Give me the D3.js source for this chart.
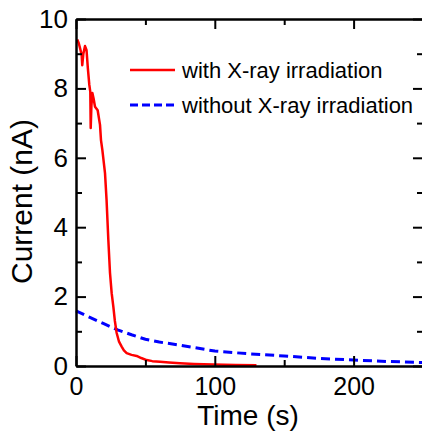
<!DOCTYPE html>
<html>
<head>
<meta charset="utf-8">
<script src="https://cdn.jsdelivr.net/npm/d3@7"></script>
<style>
  html, body { margin: 0; padding: 0; background: #fff; }
  text { font-family: Arial, "Liberation Sans", sans-serif; fill: #000; }
</style>
</head>
<body>
<div id="viz"></div>
<script>
// ----- data -----
const withXrayTime = [0.9, 2, 3.3, 4.1, 4.5, 5.3, 6.5, 7.6, 8.5, 9.6, 10.3, 10.6, 11.1, 11.8, 12.7, 13.7, 15.6, 17.3, 18, 19, 20.9, 22, 23.3, 24.5, 25.7, 26.9, 28, 29.3, 31, 32.9, 34.5, 36.5, 40, 43.7, 47, 50.9, 55, 60.5, 67, 74.9, 85, 99, 115, 130];
const withXrayCurrent = [9.41, 9.3, 9.1, 8.95, 8.67, 9.0, 9.22, 9.1, 8.6, 8.1, 7.9, 6.86, 7.5, 7.87, 7.7, 7.47, 7.37, 6.95, 6.51, 6.22, 5.56, 4.8, 3.63, 2.68, 2.1, 1.71, 1.3, 0.95, 0.7, 0.56, 0.45, 0.37, 0.32, 0.29, 0.23, 0.17, 0.14, 0.12, 0.1, 0.08, 0.06, 0.04, 0.03, 0.02];

const withoutXrayTime = [0, 10, 20, 30, 40, 50, 60, 75, 100, 125, 150, 175, 200, 225, 250];
const withoutXrayCurrent = [1.59, 1.4, 1.22, 1.04, 0.9, 0.77, 0.69, 0.6, 0.43, 0.35, 0.29, 0.22, 0.17, 0.13, 0.1];

const xMajorTicks = [0, 100, 200];
const xMinorTicks = [50, 150, 250];
const yMajorTicks = [0, 2, 4, 6, 8, 10];
const yMinorTicks = [1, 3, 5, 7, 9];

const seriesNames = ['with X-ray irradiation', 'without X-ray irradiation'];

// ----- dimensions -----
const dimensions = {
  width: 422,
  height: 438,
  margin: { top: 19, left: 76 },
  boundedWidth: 347,
  boundedHeight: 347,
};

const svg = d3.select('#viz')
  .append('svg')
    .attr('width', dimensions.width)
    .attr('height', dimensions.height);

const viz = svg.append('g')
  .attr('transform', `translate(${dimensions.margin.left}, ${dimensions.margin.top})`);

// ----- scales -----
const xScale = d3.scaleLinear().domain([0, 250]).range([0, dimensions.boundedWidth]);
const yScale = d3.scaleLinear().domain([0, 10]).range([dimensions.boundedHeight, 0]);

// ----- data -----
const withData = withXrayTime.map((t, i) => [t, withXrayCurrent[i]]);
const withoutData = withoutXrayTime.map((t, i) => [t, withoutXrayCurrent[i]]);

const lineGenerator = d3.line()
  .x(d => xScale(d[0]))
  .y(d => yScale(d[1]));

viz.append('path')
  .attr('d', lineGenerator(withoutData))
  .attr('fill', 'none')
  .attr('stroke', '#0000ff')
  .attr('stroke-width', 3)
  .attr('stroke-dasharray', '9,5');

viz.append('path')
  .attr('d', lineGenerator(withData))
  .attr('fill', 'none')
  .attr('stroke', '#ff0000')
  .attr('stroke-width', 2.5)
  .attr('stroke-linejoin', 'round');

// ----- axes (ticks point inward, frame on all sides) -----
function styleAxis(g, fontSize) {
  g.selectAll('path.domain').attr('stroke', '#000').attr('stroke-width', 2.5);
  g.selectAll('.tick line').attr('stroke', '#000').attr('stroke-width', 2);
  g.selectAll('text').style('font-size', fontSize + 'px').attr('fill', '#000');
  g.attr('font-family', null);
}

// minor ticks
viz.append('g')
  .attr('transform', `translate(0, ${dimensions.boundedHeight})`)
  .call(d3.axisBottom(xScale).tickValues(xMinorTicks).tickSize(-6).tickFormat(''))
  .call(g => g.select('.domain').remove())
  .call(g => styleAxis(g, 0));
viz.append('g')
  .call(d3.axisTop(xScale).tickValues(xMinorTicks).tickSize(-6).tickFormat(''))
  .call(g => g.select('.domain').remove())
  .call(g => styleAxis(g, 0));
viz.append('g')
  .call(d3.axisLeft(yScale).tickValues(yMinorTicks).tickSize(-6).tickFormat(''))
  .call(g => g.select('.domain').remove())
  .call(g => styleAxis(g, 0));
viz.append('g')
  .attr('transform', `translate(${dimensions.boundedWidth}, 0)`)
  .call(d3.axisRight(yScale).tickValues(yMinorTicks).tickSize(-6).tickFormat(''))
  .call(g => g.select('.domain').remove())
  .call(g => styleAxis(g, 0));

// major ticks
viz.append('g')
  .attr('transform', `translate(0, ${dimensions.boundedHeight})`)
  .call(d3.axisBottom(xScale).tickValues(xMajorTicks).tickSizeInner(-10).tickSizeOuter(0).tickPadding(11))
  .call(g => styleAxis(g, 25));
viz.append('g')
  .call(d3.axisTop(xScale).tickValues(xMajorTicks).tickSizeInner(-10).tickSizeOuter(0).tickFormat(''))
  .call(g => styleAxis(g, 0));
viz.append('g')
  .call(d3.axisLeft(yScale).tickValues(yMajorTicks).tickSizeInner(-10).tickSizeOuter(0).tickPadding(8))
  .call(g => styleAxis(g, 26));
viz.append('g')
  .attr('transform', `translate(${dimensions.boundedWidth}, 0)`)
  .call(d3.axisRight(yScale).tickValues(yMajorTicks).tickSizeInner(-10).tickSizeOuter(0).tickFormat(''))
  .call(g => styleAxis(g, 0));

// ----- labels -----
svg.append('text')
  .attr('x', 248)
  .attr('y', 425)
  .attr('text-anchor', 'middle')
  .style('font-size', '28px')
  .text('Time (s)');

svg.append('text')
  .attr('transform', 'translate(32, 201.5) rotate(-90)')
  .attr('text-anchor', 'middle')
  .style('font-size', '30px')
  .text('Current (nA)');

// ----- legend -----
const legend = svg.append('g').attr('transform', 'translate(130, 70)');
const legendStyles = [
  { stroke: '#ff0000', width: 2.5, dash: null },
  { stroke: '#0000ff', width: 3, dash: '8,4' },
];
seriesNames.forEach((name, i) => {
  const row = legend.append('g').attr('transform', `translate(0, ${i * 35})`);
  row.append('line')
    .attr('x1', 0).attr('x2', 45)
    .attr('stroke', legendStyles[i].stroke)
    .attr('stroke-width', legendStyles[i].width)
    .attr('stroke-dasharray', legendStyles[i].dash);
  row.append('text')
    .attr('x', 52)
    .attr('y', 7.5)
    .style('font-size', '22px')
    .text(name);
});
</script>
</body>
</html>
